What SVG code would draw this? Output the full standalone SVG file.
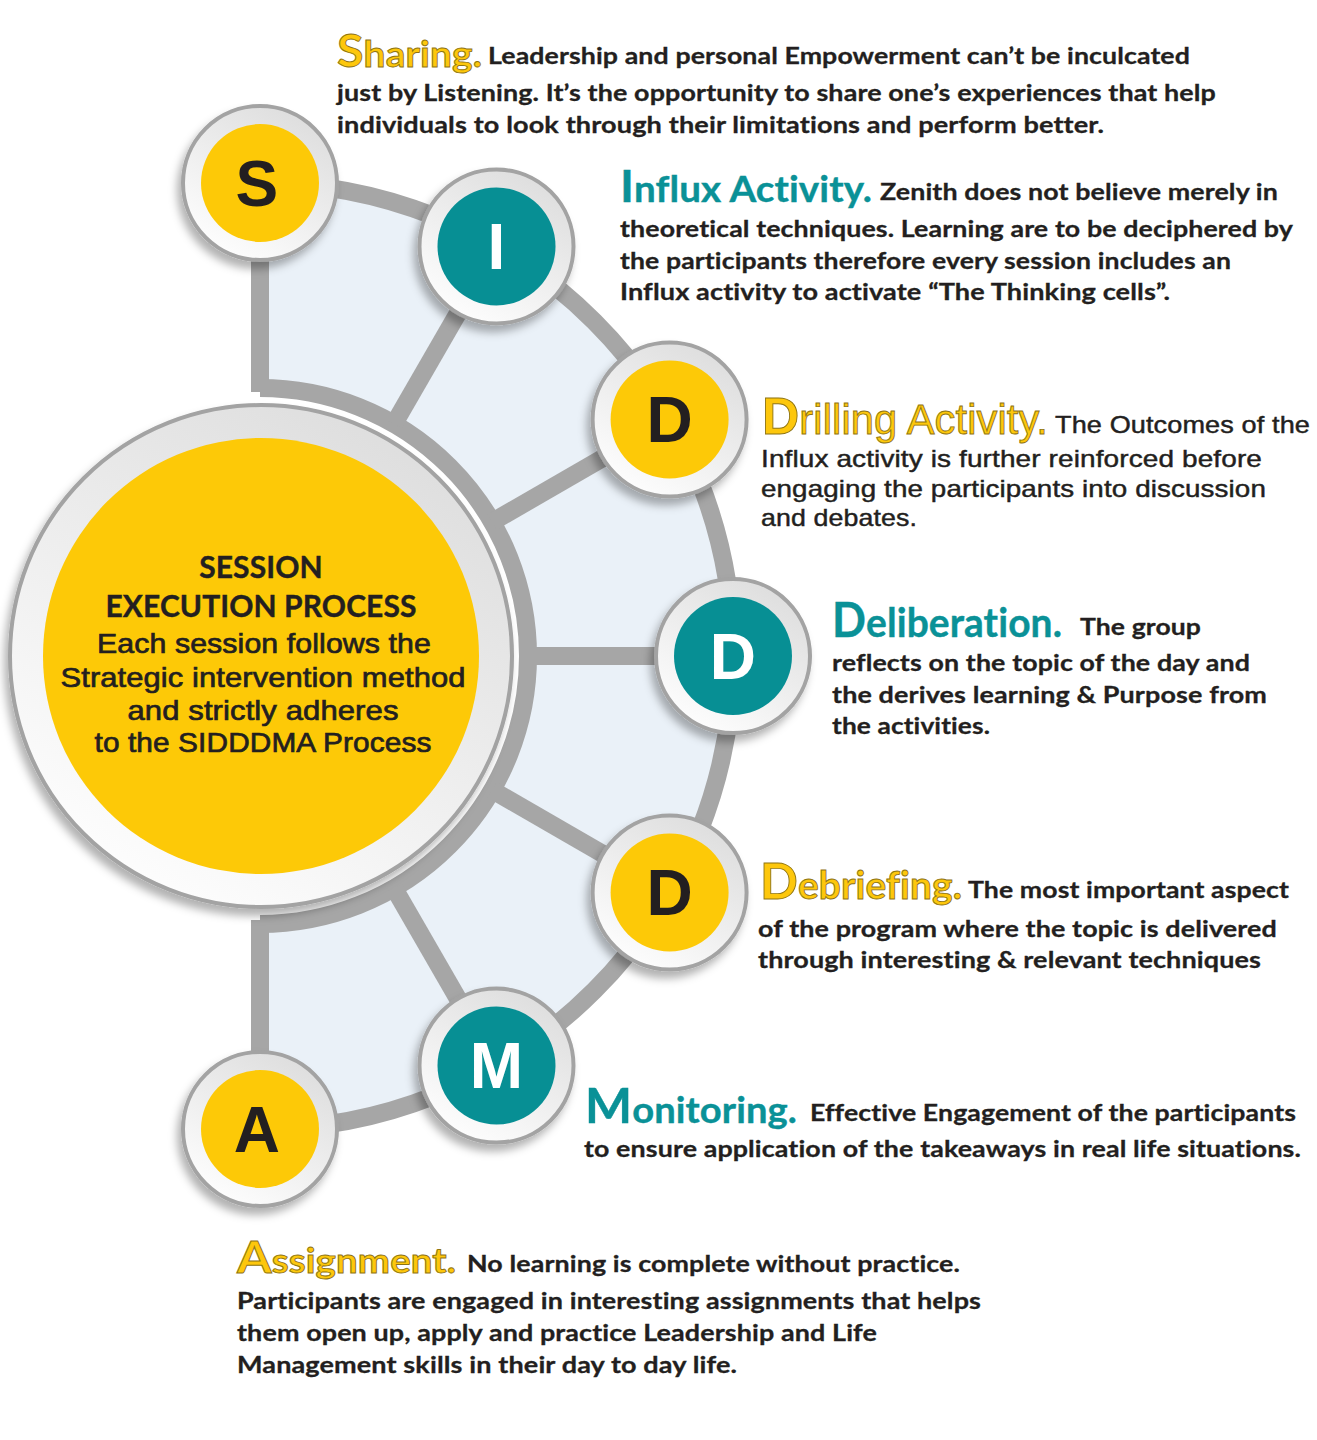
<svg xmlns="http://www.w3.org/2000/svg" width="1317" height="1440" viewBox="0 0 1317 1440">
<defs>
<style>
text{font-variant-ligatures:none;font-feature-settings:"liga" 0,"clig" 0,"dlig" 0;letter-spacing:0.1px}
.body{font-family:Lato,"Open Sans","Liberation Sans",sans-serif;font-weight:700;font-size:23px;fill:#231f20;stroke:#231f20;stroke-width:0.3}
.arial{font-family:"Liberation Sans",Arial,sans-serif;font-weight:400;font-size:24px;fill:#231f20;stroke:#231f20;stroke-width:0.45}
.ttl{font-family:Lato,"Open Sans",sans-serif;font-weight:700}
.ty{fill:#fdc70c;stroke:#8f7412;stroke-width:0.9}
.tt{fill:#0a9197;stroke:#0a9197;stroke-width:0.4}
.band{stroke:#a6a6a6;stroke-width:18;fill:none}
.ring{fill:url(#ringG);stroke:#a3a3a3;stroke-width:4}
.yel{fill:#fdc907}
.teal{fill:#078f94}
.let{font-family:"Liberation Sans",Arial,sans-serif;font-weight:700;font-size:64px;text-anchor:middle}
.ctr{font-family:Lato,"Open Sans",sans-serif;font-weight:700;font-size:30px;fill:#231f20;stroke:#231f20;stroke-width:0.4;text-anchor:middle}
.ctr2{font-family:"Liberation Sans",Arial,sans-serif;font-weight:400;font-size:28px;fill:#231f20;stroke:#231f20;stroke-width:0.7;text-anchor:middle}
</style>
<linearGradient id="ringG" x1="0.8" y1="0" x2="0.2" y2="1">
<stop offset="0" stop-color="#dcdcdc"/>
<stop offset="1" stop-color="#ffffff"/>
</linearGradient>
<filter id="sh" x="-30%" y="-30%" width="160%" height="160%">
<feDropShadow dx="-4" dy="7" stdDeviation="4" flood-color="#000" flood-opacity="0.3"/>
</filter>
</defs>
<rect width="1317" height="1440" fill="#ffffff"/>

<g id="connectors">
<path d="M260,183 A473,473 0 0 1 733,656 A473,473 0 0 1 260,1129 L260,924 A268,268 0 0 0 528,656 A268,268 0 0 0 260,388 Z" fill="#eaf1f8"/>
<path class="band" d="M260,183 A473,473 0 0 1 733,656 A473,473 0 0 1 260,1129"/>
<path class="band" d="M260,388 A268,268 0 0 1 528,656 A268,268 0 0 1 260,924"/>
<line class="band" x1="260" y1="183" x2="260" y2="392"/>
<line class="band" x1="260" y1="920" x2="260" y2="1129"/>
<line class="band" x1="394" y1="423.9" x2="496.5" y2="246.4"/>
<line class="band" x1="492.1" y1="522" x2="669.6" y2="419.5"/>
<line class="band" x1="520" y1="656" x2="733" y2="656"/>
<line class="band" x1="492.1" y1="790" x2="669.6" y2="892.5"/>
<line class="band" x1="394" y1="888.1" x2="496.5" y2="1065.6"/>
</g>

<g id="center">
<circle cx="261" cy="656" r="251" class="ring" stroke-width="3" filter="url(#sh)"/>
<circle cx="261" cy="656" r="218" class="yel"/>
<text class="ctr" x="261" y="578">SESSION</text>
<text class="ctr" x="261" y="617" textLength="311" lengthAdjust="spacingAndGlyphs">EXECUTION PROCESS</text>
<text class="ctr2" x="264" y="653" textLength="334" lengthAdjust="spacingAndGlyphs">Each session follows the</text>
<text class="ctr2" x="263" y="687" textLength="405" lengthAdjust="spacingAndGlyphs">Strategic intervention method</text>
<text class="ctr2" x="263" y="720" textLength="271" lengthAdjust="spacingAndGlyphs">and strictly adheres</text>
<text class="ctr2" x="263" y="752" textLength="337" lengthAdjust="spacingAndGlyphs">to the SIDDDMA Process</text>
</g>

<g id="node-S">
<circle cx="260" cy="183" r="77" class="ring" filter="url(#sh)"/>
<circle cx="260" cy="183" r="59" class="yel"/>
<text class="let" x="257" y="206" fill="#231f20">S</text>
</g>
<g id="node-I">
<circle cx="496.5" cy="246.4" r="77" class="ring" filter="url(#sh)"/>
<circle cx="496.5" cy="246.4" r="59" class="teal"/>
<text class="let" x="496.5" y="269" fill="#ffffff">I</text>
</g>
<g id="node-D1">
<circle cx="669.6" cy="419.5" r="77" class="ring" filter="url(#sh)"/>
<circle cx="669.6" cy="419.5" r="59" class="yel"/>
<text class="let" x="669.6" y="442" fill="#231f20">D</text>
</g>
<g id="node-D2">
<circle cx="733" cy="656" r="77" class="ring" filter="url(#sh)"/>
<circle cx="733" cy="656" r="59" class="teal"/>
<text class="let" x="733" y="679" fill="#ffffff">D</text>
</g>
<g id="node-D3">
<circle cx="669.6" cy="892.5" r="77" class="ring" filter="url(#sh)"/>
<circle cx="669.6" cy="892.5" r="59" class="yel"/>
<text class="let" x="669.6" y="915" fill="#231f20">D</text>
</g>
<g id="node-M">
<circle cx="496.5" cy="1065.6" r="77" class="ring" filter="url(#sh)"/>
<circle cx="496.5" cy="1065.6" r="59" class="teal"/>
<text class="let" x="496.5" y="1088" fill="#ffffff">M</text>
</g>
<g id="node-A">
<circle cx="260" cy="1129" r="77" class="ring" filter="url(#sh)"/>
<circle cx="260" cy="1129" r="59" class="yel"/>
<text class="let" x="257" y="1152" fill="#231f20">A</text>
</g>

<g id="text-sharing">
<text class="ttl ty" x="337" y="67" textLength="145" lengthAdjust="spacingAndGlyphs"><tspan font-size="46">S</tspan><tspan font-size="37">haring.</tspan></text>
<text class="body" x="488" y="64" textLength="702" lengthAdjust="spacingAndGlyphs">Leadership and personal Empowerment can’t be inculcated</text>
<text class="body" x="337" y="101" textLength="879" lengthAdjust="spacingAndGlyphs">just by Listening. It’s the opportunity to share one’s experiences that help</text>
<text class="body" x="337" y="133" textLength="767" lengthAdjust="spacingAndGlyphs">individuals to look through their limitations and perform better.</text>
</g>

<g id="text-influx">
<text class="ttl tt" x="620" y="202" textLength="252" lengthAdjust="spacingAndGlyphs"><tspan font-size="44">I</tspan><tspan font-size="36">nflux Activity.</tspan></text>
<text class="body" x="880" y="200" textLength="398" lengthAdjust="spacingAndGlyphs">Zenith does not believe merely in</text>
<text class="body" x="620" y="237" textLength="673" lengthAdjust="spacingAndGlyphs">theoretical techniques. Learning are to be deciphered by</text>
<text class="body" x="620" y="269" textLength="611" lengthAdjust="spacingAndGlyphs">the participants therefore every session includes an</text>
<text class="body" x="620" y="300" textLength="550" lengthAdjust="spacingAndGlyphs">Influx activity to activate “The Thinking cells”.</text>
</g>

<g id="text-drilling">
<text class="ty" font-family="Liberation Sans, Arial, sans-serif" x="762" y="434" textLength="286" lengthAdjust="spacingAndGlyphs"><tspan font-size="52" font-weight="700">D</tspan><tspan font-size="42">rilling Activity.</tspan></text>
<text class="arial" x="1055" y="433" textLength="255" lengthAdjust="spacingAndGlyphs">The Outcomes of the</text>
<text class="arial" x="761" y="467" textLength="501" lengthAdjust="spacingAndGlyphs">Influx activity is further reinforced before</text>
<text class="arial" x="761" y="497" textLength="505" lengthAdjust="spacingAndGlyphs">engaging the participants into discussion</text>
<text class="arial" x="761" y="526" textLength="156" lengthAdjust="spacingAndGlyphs">and debates.</text>
</g>

<g id="text-deliberation">
<text class="ttl tt" x="832" y="637" textLength="230" lengthAdjust="spacingAndGlyphs"><tspan font-size="47">D</tspan><tspan font-size="41">eliberation.</tspan></text>
<text class="body" x="1080" y="635" textLength="121" lengthAdjust="spacingAndGlyphs">The group</text>
<text class="body" x="832" y="671" textLength="418" lengthAdjust="spacingAndGlyphs">reflects on the topic of the day and</text>
<text class="body" x="832" y="703" textLength="435" lengthAdjust="spacingAndGlyphs">the derives learning &amp; Purpose from</text>
<text class="body" x="832" y="734" textLength="158" lengthAdjust="spacingAndGlyphs">the activities.</text>
</g>

<g id="text-debriefing">
<text class="ttl ty" x="760" y="899" textLength="202" lengthAdjust="spacingAndGlyphs"><tspan font-size="50">D</tspan><tspan font-size="39">ebriefing.</tspan></text>
<text class="body" x="968" y="898" textLength="321" lengthAdjust="spacingAndGlyphs">The most important aspect</text>
<text class="body" x="758" y="937" textLength="519" lengthAdjust="spacingAndGlyphs">of the program where the topic is delivered</text>
<text class="body" x="758" y="968" textLength="503" lengthAdjust="spacingAndGlyphs">through interesting &amp; relevant techniques</text>
</g>

<g id="text-monitoring">
<text class="ttl tt" x="585" y="1123" textLength="212" lengthAdjust="spacingAndGlyphs"><tspan font-size="47">M</tspan><tspan font-size="36">onitoring.</tspan></text>
<text class="body" x="810" y="1121" textLength="486" lengthAdjust="spacingAndGlyphs">Effective Engagement of the participants</text>
<text class="body" x="584" y="1157" textLength="717" lengthAdjust="spacingAndGlyphs">to ensure application of the takeaways in real life situations.</text>
</g>

<g id="text-assignment">
<text class="ttl ty" x="237" y="1273" textLength="219" lengthAdjust="spacingAndGlyphs"><tspan font-size="44">A</tspan><tspan font-size="34">ssignment.</tspan></text>
<text class="body" x="467" y="1272" textLength="493" lengthAdjust="spacingAndGlyphs">No learning is complete without practice.</text>
<text class="body" x="237" y="1309" textLength="744" lengthAdjust="spacingAndGlyphs">Participants are engaged in interesting assignments that helps</text>
<text class="body" x="237" y="1341" textLength="640" lengthAdjust="spacingAndGlyphs">them open up, apply and practice Leadership and Life</text>
<text class="body" x="237" y="1373" textLength="500" lengthAdjust="spacingAndGlyphs">Management skills in their day to day life.</text>
</g>
</svg>
